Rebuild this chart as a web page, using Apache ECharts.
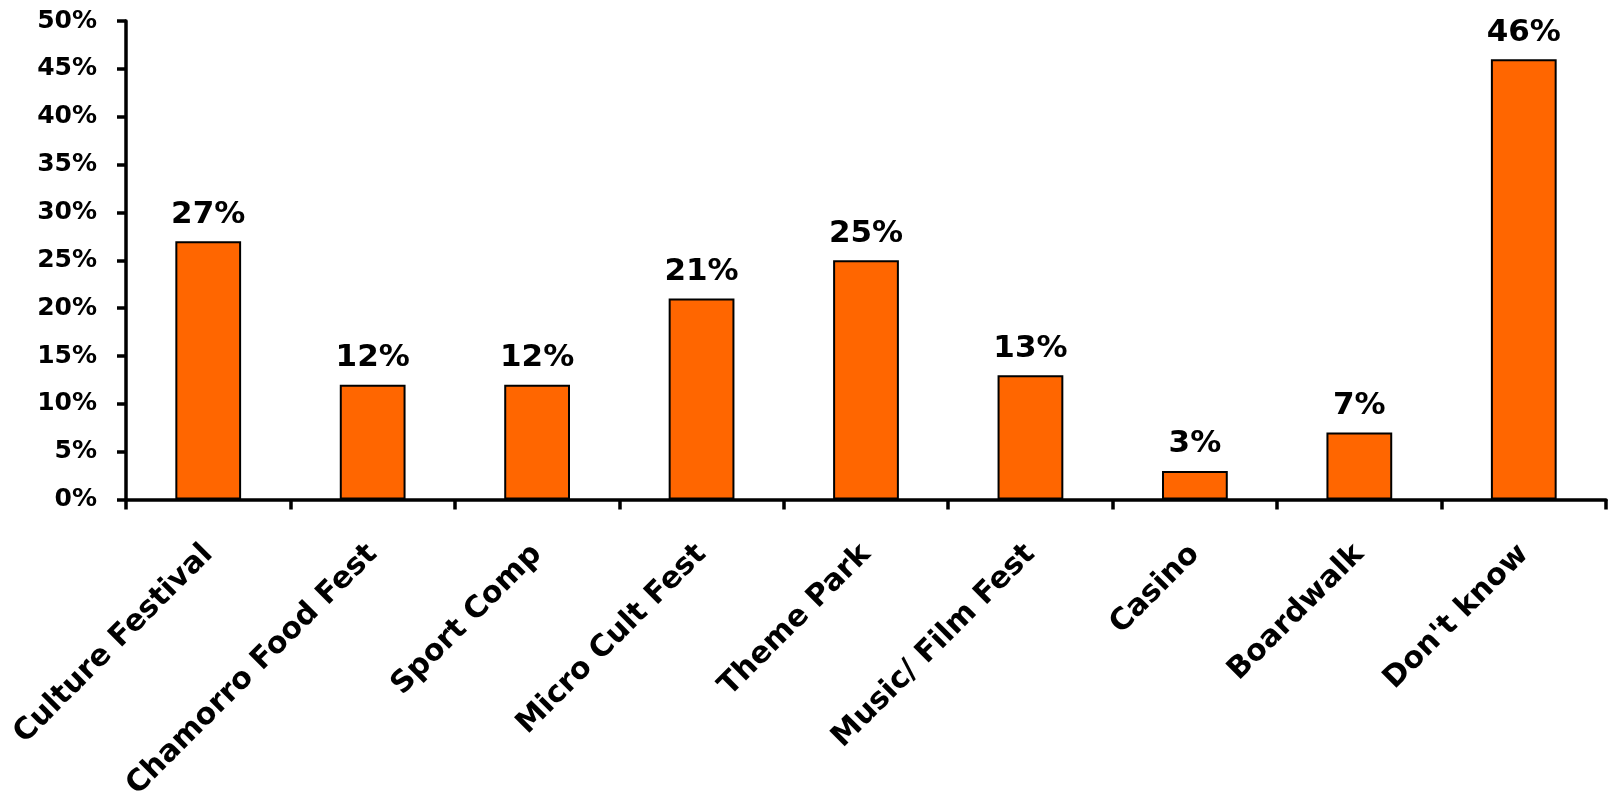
<!DOCTYPE html>
<html>
<head>
<meta charset="utf-8">
<script src="https://cdn.jsdelivr.net/npm/echarts@6/dist/echarts.min.js"></script>
<style>
html,body{margin:0;padding:0;background:#fff;}
#c{width:1609px;height:803px;}
</style>
</head>
<body>
<div id="c"></div>
<script>
var categories = ["Culture Festival","Chamorro Food Fest","Sport Comp","Micro Cult Fest","Theme Park","Music/ Film Fest","Casino","Boardwalk","Don't know"];
var values = [27, 12, 12, 21, 25, 13, 3, 7, 46];
var yTicks = [0, 5, 10, 15, 20, 25, 30, 35, 40, 45, 50];

var FONT = "'DejaVu Sans', sans-serif";
var chart = echarts.init(document.getElementById('c'));
chart.setOption({
  animation: false,
  grid: {left: 126, right: 3, top: 21, bottom: 303, containLabel: false},
  xAxis: {
    type: 'category',
    data: categories,
    boundaryGap: true,
    axisLine: {lineStyle: {color: '#000', width: 3.5}},
    axisTick: {show: true, alignWithLabel: false, length: 10, lineStyle: {color: '#000', width: 3.5}},
    axisLabel: {
      interval: 0, rotate: 45, margin: 50,
      color: '#000', fontFamily: FONT, fontWeight: 'bold', fontSize: 30
    }
  },
  yAxis: {
    type: 'value',
    min: yTicks[0], max: yTicks[yTicks.length - 1], interval: 5,
    splitLine: {show: false},
    axisLine: {show: true, lineStyle: {color: '#000', width: 3.5}},
    axisTick: {show: true, length: 9, lineStyle: {color: '#000', width: 3.5}},
    axisLabel: {
      margin: 29, color: '#000', fontFamily: FONT, fontWeight: 'bold', fontSize: 25,
      formatter: function (v) { return v + '%'; }
    }
  },
  series: [{
    type: 'bar',
    data: values,
    barWidth: '40%',
    itemStyle: {color: '#FF6600', borderColor: '#000', borderWidth: 2},
    label: {
      show: true, position: 'top', distance: 11,
      color: '#000', fontFamily: FONT, fontWeight: 'bold', fontSize: 31,
      formatter: function (p) { return p.value + '%'; }
    }
  }]
});
</script>
</body>
</html>
